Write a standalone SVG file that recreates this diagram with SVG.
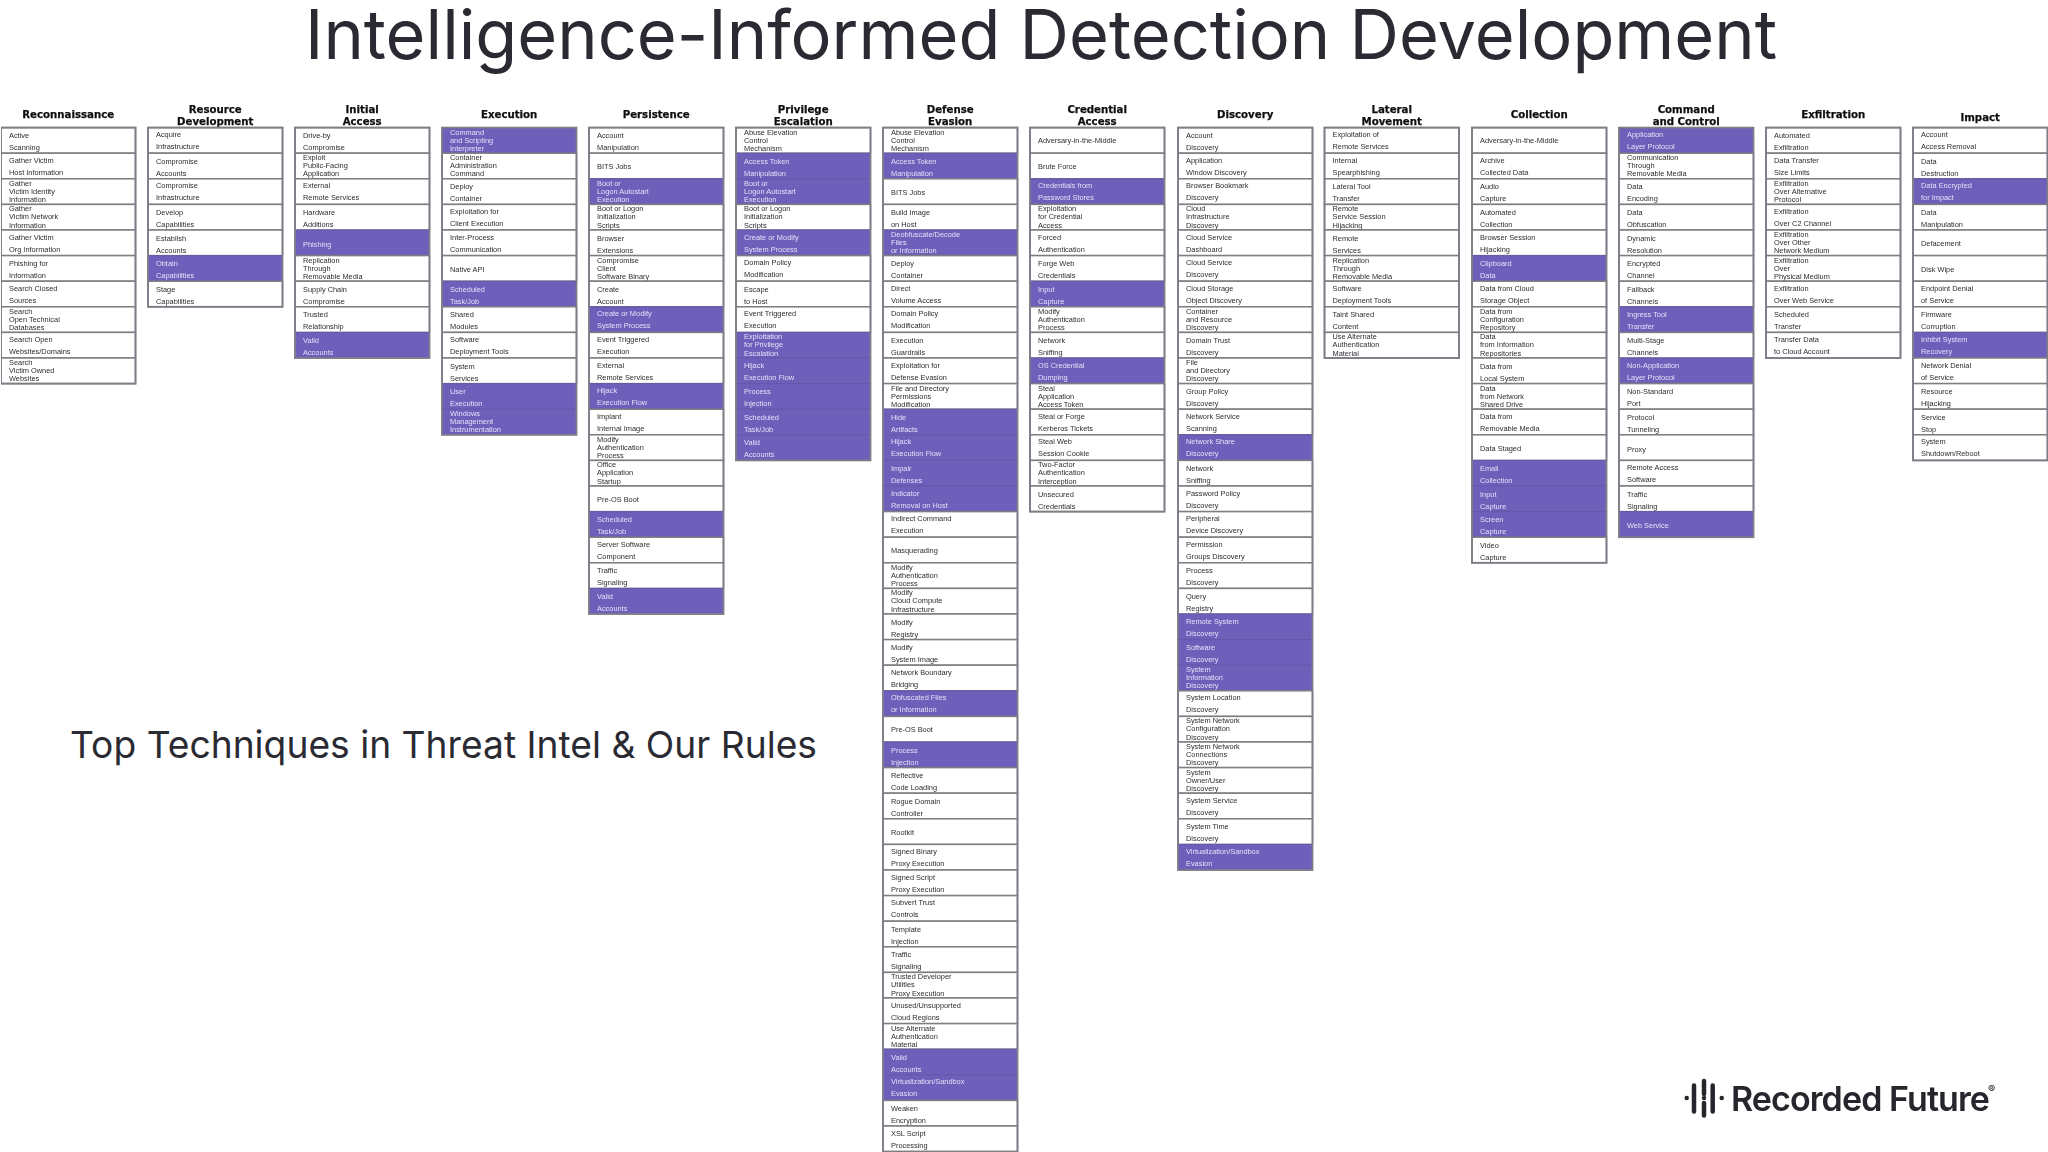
<svg xmlns="http://www.w3.org/2000/svg" width="2048" height="1152" viewBox="0 0 2048 1152">
<style>
.bg{fill:#fff}
.title{font-family:Inter,"Liberation Sans",sans-serif;fill:#2a2a33}
.grid rect{fill:#fff;stroke:#7e7e80;stroke-width:1.5}
.grid g.p rect{fill:#6e5fbb;stroke:#6558ac;stroke-width:1}
.grid rect.f{fill:none;stroke:#7e7e88;stroke-width:1.8}
.grid text{font-family:"Liberation Sans",Arial,sans-serif;font-size:7.4px;fill:#2c2c2c}
.grid g.p text{fill:#e4e0f6}
.grid text.h{font-family:"DejaVu Sans",sans-serif;font-weight:700;font-size:10.2px;fill:#111;text-anchor:middle;stroke:#111;stroke-width:.25}
.logo{font-family:Inter,"Liberation Sans",sans-serif;font-weight:600;fill:#26262c}
.mark{stroke:#26262c;stroke-width:4.5;stroke-linecap:round;fill:none}
</style>
<defs><filter id="soft" x="0" y="0" width="100%" height="100%" filterUnits="objectBoundingBox"><feGaussianBlur stdDeviation="0.5"/></filter></defs>
<rect class="bg" width="2048" height="1152"/>
<text id="title" class="title" x="305" y="59" font-size="68.5">Intelligence-Informed Detection Development</text>
<text id="subtitle" class="title" x="70" y="758" font-size="37.2">Top Techniques in Threat Intel &amp; Our Rules</text>
<g class="grid" filter="url(#soft)">
<g id="col-reconnaissance" transform="translate(1,127.6)">
<text class="h" x="67.2" y="-9.6">Reconnaissance</text>
<g id="rec-0"><rect width="134.5" height="25.6"/><text x="8" y="10.7">Active<tspan x="8" dy="12">Scanning</tspan></text></g>
<g id="rec-1" transform="translate(0,25.6)"><rect width="134.5" height="25.6"/><text x="8" y="9.5">Gather Victim<tspan x="8" dy="12">Host Information</tspan></text></g>
<g id="rec-2" transform="translate(0,51.2)"><rect width="134.5" height="25.6"/><text x="8" y="7">Gather<tspan x="8" dy="8.1">Victim Identity</tspan><tspan x="8" dy="8.1">Information</tspan></text></g>
<g id="rec-3" transform="translate(0,76.8)"><rect width="134.5" height="25.6"/><text x="8" y="7">Gather<tspan x="8" dy="8.1">Victim Network</tspan><tspan x="8" dy="8.1">Information</tspan></text></g>
<g id="rec-4" transform="translate(0,102.4)"><rect width="134.5" height="25.6"/><text x="8" y="9.5">Gather Victim<tspan x="8" dy="12">Org Information</tspan></text></g>
<g id="rec-5" transform="translate(0,128)"><rect width="134.5" height="25.6"/><text x="8" y="10.7">Phishing for<tspan x="8" dy="12">Information</tspan></text></g>
<g id="rec-6" transform="translate(0,153.6)"><rect width="134.5" height="25.6"/><text x="8" y="9.5">Search Closed<tspan x="8" dy="12">Sources</tspan></text></g>
<g id="rec-7" transform="translate(0,179.2)"><rect width="134.5" height="25.6"/><text x="8" y="7">Search<tspan x="8" dy="8.1">Open Technical</tspan><tspan x="8" dy="8.1">Databases</tspan></text></g>
<g id="rec-8" transform="translate(0,204.8)"><rect width="134.5" height="25.6"/><text x="8" y="9.5">Search Open<tspan x="8" dy="12">Websites/Domains</tspan></text></g>
<g id="rec-9" transform="translate(0,230.4)"><rect width="134.5" height="25.6"/><text x="8" y="7">Search<tspan x="8" dy="8.1">Victim Owned</tspan><tspan x="8" dy="8.1">Websites</tspan></text></g>
<rect class="f" width="134.5" height="256"/>
</g>
<g id="col-resource" transform="translate(148,127.6)">
<text class="h" x="67.2" y="-14.6">Resource<tspan x="67.2" dy="12">Development</tspan></text>
<g id="res-0"><rect width="134.5" height="25.6"/><text x="8" y="9.5">Acquire<tspan x="8" dy="12">Infrastructure</tspan></text></g>
<g id="res-1" transform="translate(0,25.6)"><rect width="134.5" height="25.6"/><text x="8" y="10.7">Compromise<tspan x="8" dy="12">Accounts</tspan></text></g>
<g id="res-2" transform="translate(0,51.2)"><rect width="134.5" height="25.6"/><text x="8" y="9.5">Compromise<tspan x="8" dy="12">Infrastructure</tspan></text></g>
<g id="res-3" transform="translate(0,76.8)"><rect width="134.5" height="25.6"/><text x="8" y="10.7">Develop<tspan x="8" dy="12">Capabilities</tspan></text></g>
<g id="res-4" transform="translate(0,102.4)"><rect width="134.5" height="25.6"/><text x="8" y="10.7">Establish<tspan x="8" dy="12">Accounts</tspan></text></g>
<g id="res-5" class="p" transform="translate(0,128)"><rect width="134.5" height="25.6"/><text x="8" y="10.7">Obtain<tspan x="8" dy="12">Capabilities</tspan></text></g>
<g id="res-6" transform="translate(0,153.6)"><rect width="134.5" height="25.6"/><text x="8" y="10.7">Stage<tspan x="8" dy="12">Capabilities</tspan></text></g>
<rect class="f" width="134.5" height="179.2"/>
</g>
<g id="col-initial" transform="translate(295,127.6)">
<text class="h" x="67.2" y="-14.6">Initial<tspan x="67.2" dy="12">Access</tspan></text>
<g id="ini-0"><rect width="134.5" height="25.6"/><text x="8" y="10.7">Drive-by<tspan x="8" dy="12">Compromise</tspan></text></g>
<g id="ini-1" transform="translate(0,25.6)"><rect width="134.5" height="25.6"/><text x="8" y="7">Exploit<tspan x="8" dy="8.1">Public-Facing</tspan><tspan x="8" dy="8.1">Application</tspan></text></g>
<g id="ini-2" transform="translate(0,51.2)"><rect width="134.5" height="25.6"/><text x="8" y="9.5">External<tspan x="8" dy="12">Remote Services</tspan></text></g>
<g id="ini-3" transform="translate(0,76.8)"><rect width="134.5" height="25.6"/><text x="8" y="10.7">Hardware<tspan x="8" dy="12">Additions</tspan></text></g>
<g id="ini-4" class="p" transform="translate(0,102.4)"><rect width="134.5" height="25.6"/><text x="8" y="17">Phishing</text></g>
<g id="ini-5" transform="translate(0,128)"><rect width="134.5" height="25.6"/><text x="8" y="7">Replication<tspan x="8" dy="8.1">Through</tspan><tspan x="8" dy="8.1">Removable Media</tspan></text></g>
<g id="ini-6" transform="translate(0,153.6)"><rect width="134.5" height="25.6"/><text x="8" y="10.7">Supply Chain<tspan x="8" dy="12">Compromise</tspan></text></g>
<g id="ini-7" transform="translate(0,179.2)"><rect width="134.5" height="25.6"/><text x="8" y="10.7">Trusted<tspan x="8" dy="12">Relationship</tspan></text></g>
<g id="ini-8" class="p" transform="translate(0,204.8)"><rect width="134.5" height="25.6"/><text x="8" y="10.7">Valid<tspan x="8" dy="12">Accounts</tspan></text></g>
<rect class="f" width="134.5" height="230.4"/>
</g>
<g id="col-execution" transform="translate(442,127.6)">
<text class="h" x="67.2" y="-9.6">Execution</text>
<g id="exe-0" class="p"><rect width="134.5" height="25.6"/><text x="8" y="7">Command<tspan x="8" dy="8.1">and Scripting</tspan><tspan x="8" dy="8.1">Interpreter</tspan></text></g>
<g id="exe-1" transform="translate(0,25.6)"><rect width="134.5" height="25.6"/><text x="8" y="7">Container<tspan x="8" dy="8.1">Administration</tspan><tspan x="8" dy="8.1">Command</tspan></text></g>
<g id="exe-2" transform="translate(0,51.2)"><rect width="134.5" height="25.6"/><text x="8" y="10.7">Deploy<tspan x="8" dy="12">Container</tspan></text></g>
<g id="exe-3" transform="translate(0,76.8)"><rect width="134.5" height="25.6"/><text x="8" y="9.5">Exploitation for<tspan x="8" dy="12">Client Execution</tspan></text></g>
<g id="exe-4" transform="translate(0,102.4)"><rect width="134.5" height="25.6"/><text x="8" y="9.5">Inter-Process<tspan x="8" dy="12">Communication</tspan></text></g>
<g id="exe-5" transform="translate(0,128)"><rect width="134.5" height="25.6"/><text x="8" y="16">Native API</text></g>
<g id="exe-6" class="p" transform="translate(0,153.6)"><rect width="134.5" height="25.6"/><text x="8" y="10.7">Scheduled<tspan x="8" dy="12">Task/Job</tspan></text></g>
<g id="exe-7" transform="translate(0,179.2)"><rect width="134.5" height="25.6"/><text x="8" y="10.7">Shared<tspan x="8" dy="12">Modules</tspan></text></g>
<g id="exe-8" transform="translate(0,204.8)"><rect width="134.5" height="25.6"/><text x="8" y="9.5">Software<tspan x="8" dy="12">Deployment Tools</tspan></text></g>
<g id="exe-9" transform="translate(0,230.4)"><rect width="134.5" height="25.6"/><text x="8" y="10.7">System<tspan x="8" dy="12">Services</tspan></text></g>
<g id="exe-10" class="p" transform="translate(0,256)"><rect width="134.5" height="25.6"/><text x="8" y="10.7">User<tspan x="8" dy="12">Execution</tspan></text></g>
<g id="exe-11" class="p" transform="translate(0,281.6)"><rect width="134.5" height="25.6"/><text x="8" y="7">Windows<tspan x="8" dy="8.1">Management</tspan><tspan x="8" dy="8.1">Instrumentation</tspan></text></g>
<rect class="f" width="134.5" height="307.2"/>
</g>
<g id="col-persistence" transform="translate(589,127.6)">
<text class="h" x="67.2" y="-9.6">Persistence</text>
<g id="per-0"><rect width="134.5" height="25.6"/><text x="8" y="10.7">Account<tspan x="8" dy="12">Manipulation</tspan></text></g>
<g id="per-1" transform="translate(0,25.6)"><rect width="134.5" height="25.6"/><text x="8" y="16">BITS Jobs</text></g>
<g id="per-2" class="p" transform="translate(0,51.2)"><rect width="134.5" height="25.6"/><text x="8" y="7">Boot or<tspan x="8" dy="8.1">Logon Autostart</tspan><tspan x="8" dy="8.1">Execution</tspan></text></g>
<g id="per-3" transform="translate(0,76.8)"><rect width="134.5" height="25.6"/><text x="8" y="7">Boot or Logon<tspan x="8" dy="8.1">Initialization</tspan><tspan x="8" dy="8.1">Scripts</tspan></text></g>
<g id="per-4" transform="translate(0,102.4)"><rect width="134.5" height="25.6"/><text x="8" y="10.7">Browser<tspan x="8" dy="12">Extensions</tspan></text></g>
<g id="per-5" transform="translate(0,128)"><rect width="134.5" height="25.6"/><text x="8" y="7">Compromise<tspan x="8" dy="8.1">Client</tspan><tspan x="8" dy="8.1">Software Binary</tspan></text></g>
<g id="per-6" transform="translate(0,153.6)"><rect width="134.5" height="25.6"/><text x="8" y="10.7">Create<tspan x="8" dy="12">Account</tspan></text></g>
<g id="per-7" class="p" transform="translate(0,179.2)"><rect width="134.5" height="25.6"/><text x="8" y="9.5">Create or Modify<tspan x="8" dy="12">System Process</tspan></text></g>
<g id="per-8" transform="translate(0,204.8)"><rect width="134.5" height="25.6"/><text x="8" y="9.5">Event Triggered<tspan x="8" dy="12">Execution</tspan></text></g>
<g id="per-9" transform="translate(0,230.4)"><rect width="134.5" height="25.6"/><text x="8" y="9.5">External<tspan x="8" dy="12">Remote Services</tspan></text></g>
<g id="per-10" class="p" transform="translate(0,256)"><rect width="134.5" height="25.6"/><text x="8" y="9.5">Hijack<tspan x="8" dy="12">Execution Flow</tspan></text></g>
<g id="per-11" transform="translate(0,281.6)"><rect width="134.5" height="25.6"/><text x="8" y="9.5">Implant<tspan x="8" dy="12">Internal Image</tspan></text></g>
<g id="per-12" transform="translate(0,307.2)"><rect width="134.5" height="25.6"/><text x="8" y="7">Modify<tspan x="8" dy="8.1">Authentication</tspan><tspan x="8" dy="8.1">Process</tspan></text></g>
<g id="per-13" transform="translate(0,332.8)"><rect width="134.5" height="25.6"/><text x="8" y="7">Office<tspan x="8" dy="8.1">Application</tspan><tspan x="8" dy="8.1">Startup</tspan></text></g>
<g id="per-14" transform="translate(0,358.4)"><rect width="134.5" height="25.6"/><text x="8" y="16">Pre-OS Boot</text></g>
<g id="per-15" class="p" transform="translate(0,384)"><rect width="134.5" height="25.6"/><text x="8" y="10.7">Scheduled<tspan x="8" dy="12">Task/Job</tspan></text></g>
<g id="per-16" transform="translate(0,409.6)"><rect width="134.5" height="25.6"/><text x="8" y="9.5">Server Software<tspan x="8" dy="12">Component</tspan></text></g>
<g id="per-17" transform="translate(0,435.2)"><rect width="134.5" height="25.6"/><text x="8" y="10.7">Traffic<tspan x="8" dy="12">Signaling</tspan></text></g>
<g id="per-18" class="p" transform="translate(0,460.8)"><rect width="134.5" height="25.6"/><text x="8" y="10.7">Valid<tspan x="8" dy="12">Accounts</tspan></text></g>
<rect class="f" width="134.5" height="486.4"/>
</g>
<g id="col-privilege" transform="translate(736,127.6)">
<text class="h" x="67.2" y="-14.6">Privilege<tspan x="67.2" dy="12">Escalation</tspan></text>
<g id="pri-0"><rect width="134.5" height="25.6"/><text x="8" y="7">Abuse Elevation<tspan x="8" dy="8.1">Control</tspan><tspan x="8" dy="8.1">Mechanism</tspan></text></g>
<g id="pri-1" class="p" transform="translate(0,25.6)"><rect width="134.5" height="25.6"/><text x="8" y="10.7">Access Token<tspan x="8" dy="12">Manipulation</tspan></text></g>
<g id="pri-2" class="p" transform="translate(0,51.2)"><rect width="134.5" height="25.6"/><text x="8" y="7">Boot or<tspan x="8" dy="8.1">Logon Autostart</tspan><tspan x="8" dy="8.1">Execution</tspan></text></g>
<g id="pri-3" transform="translate(0,76.8)"><rect width="134.5" height="25.6"/><text x="8" y="7">Boot or Logon<tspan x="8" dy="8.1">Initialization</tspan><tspan x="8" dy="8.1">Scripts</tspan></text></g>
<g id="pri-4" class="p" transform="translate(0,102.4)"><rect width="134.5" height="25.6"/><text x="8" y="9.5">Create or Modify<tspan x="8" dy="12">System Process</tspan></text></g>
<g id="pri-5" transform="translate(0,128)"><rect width="134.5" height="25.6"/><text x="8" y="9.5">Domain Policy<tspan x="8" dy="12">Modification</tspan></text></g>
<g id="pri-6" transform="translate(0,153.6)"><rect width="134.5" height="25.6"/><text x="8" y="10.7">Escape<tspan x="8" dy="12">to Host</tspan></text></g>
<g id="pri-7" transform="translate(0,179.2)"><rect width="134.5" height="25.6"/><text x="8" y="9.5">Event Triggered<tspan x="8" dy="12">Execution</tspan></text></g>
<g id="pri-8" class="p" transform="translate(0,204.8)"><rect width="134.5" height="25.6"/><text x="8" y="7">Exploitation<tspan x="8" dy="8.1">for Privilege</tspan><tspan x="8" dy="8.1">Escalation</tspan></text></g>
<g id="pri-9" class="p" transform="translate(0,230.4)"><rect width="134.5" height="25.6"/><text x="8" y="9.5">Hijack<tspan x="8" dy="12">Execution Flow</tspan></text></g>
<g id="pri-10" class="p" transform="translate(0,256)"><rect width="134.5" height="25.6"/><text x="8" y="10.7">Process<tspan x="8" dy="12">Injection</tspan></text></g>
<g id="pri-11" class="p" transform="translate(0,281.6)"><rect width="134.5" height="25.6"/><text x="8" y="10.7">Scheduled<tspan x="8" dy="12">Task/Job</tspan></text></g>
<g id="pri-12" class="p" transform="translate(0,307.2)"><rect width="134.5" height="25.6"/><text x="8" y="10.7">Valid<tspan x="8" dy="12">Accounts</tspan></text></g>
<rect class="f" width="134.5" height="332.8"/>
</g>
<g id="col-defense" transform="translate(883,127.6)">
<text class="h" x="67.2" y="-14.6">Defense<tspan x="67.2" dy="12">Evasion</tspan></text>
<g id="def-0"><rect width="134.5" height="25.6"/><text x="8" y="7">Abuse Elevation<tspan x="8" dy="8.1">Control</tspan><tspan x="8" dy="8.1">Mechanism</tspan></text></g>
<g id="def-1" class="p" transform="translate(0,25.6)"><rect width="134.5" height="25.6"/><text x="8" y="10.7">Access Token<tspan x="8" dy="12">Manipulation</tspan></text></g>
<g id="def-2" transform="translate(0,51.2)"><rect width="134.5" height="25.6"/><text x="8" y="16">BITS Jobs</text></g>
<g id="def-3" transform="translate(0,76.8)"><rect width="134.5" height="25.6"/><text x="8" y="10.7">Build Image<tspan x="8" dy="12">on Host</tspan></text></g>
<g id="def-4" class="p" transform="translate(0,102.4)"><rect width="134.5" height="25.6"/><text x="8" y="7">Deobfuscate/Decode<tspan x="8" dy="8.1">Files</tspan><tspan x="8" dy="8.1">or Information</tspan></text></g>
<g id="def-5" transform="translate(0,128)"><rect width="134.5" height="25.6"/><text x="8" y="10.7">Deploy<tspan x="8" dy="12">Container</tspan></text></g>
<g id="def-6" transform="translate(0,153.6)"><rect width="134.5" height="25.6"/><text x="8" y="9.5">Direct<tspan x="8" dy="12">Volume Access</tspan></text></g>
<g id="def-7" transform="translate(0,179.2)"><rect width="134.5" height="25.6"/><text x="8" y="9.5">Domain Policy<tspan x="8" dy="12">Modification</tspan></text></g>
<g id="def-8" transform="translate(0,204.8)"><rect width="134.5" height="25.6"/><text x="8" y="10.7">Execution<tspan x="8" dy="12">Guardrails</tspan></text></g>
<g id="def-9" transform="translate(0,230.4)"><rect width="134.5" height="25.6"/><text x="8" y="9.5">Exploitation for<tspan x="8" dy="12">Defense Evasion</tspan></text></g>
<g id="def-10" transform="translate(0,256)"><rect width="134.5" height="25.6"/><text x="8" y="7">File and Directory<tspan x="8" dy="8.1">Permissions</tspan><tspan x="8" dy="8.1">Modification</tspan></text></g>
<g id="def-11" class="p" transform="translate(0,281.6)"><rect width="134.5" height="25.6"/><text x="8" y="10.7">Hide<tspan x="8" dy="12">Artifacts</tspan></text></g>
<g id="def-12" class="p" transform="translate(0,307.2)"><rect width="134.5" height="25.6"/><text x="8" y="9.5">Hijack<tspan x="8" dy="12">Execution Flow</tspan></text></g>
<g id="def-13" class="p" transform="translate(0,332.8)"><rect width="134.5" height="25.6"/><text x="8" y="10.7">Impair<tspan x="8" dy="12">Defenses</tspan></text></g>
<g id="def-14" class="p" transform="translate(0,358.4)"><rect width="134.5" height="25.6"/><text x="8" y="9.5">Indicator<tspan x="8" dy="12">Removal on Host</tspan></text></g>
<g id="def-15" transform="translate(0,384)"><rect width="134.5" height="25.6"/><text x="8" y="9.5">Indirect Command<tspan x="8" dy="12">Execution</tspan></text></g>
<g id="def-16" transform="translate(0,409.6)"><rect width="134.5" height="25.6"/><text x="8" y="16">Masquerading</text></g>
<g id="def-17" transform="translate(0,435.2)"><rect width="134.5" height="25.6"/><text x="8" y="7">Modify<tspan x="8" dy="8.1">Authentication</tspan><tspan x="8" dy="8.1">Process</tspan></text></g>
<g id="def-18" transform="translate(0,460.8)"><rect width="134.5" height="25.6"/><text x="8" y="7">Modify<tspan x="8" dy="8.1">Cloud Compute</tspan><tspan x="8" dy="8.1">Infrastructure</tspan></text></g>
<g id="def-19" transform="translate(0,486.4)"><rect width="134.5" height="25.6"/><text x="8" y="10.7">Modify<tspan x="8" dy="12">Registry</tspan></text></g>
<g id="def-20" transform="translate(0,512)"><rect width="134.5" height="25.6"/><text x="8" y="10.7">Modify<tspan x="8" dy="12">System Image</tspan></text></g>
<g id="def-21" transform="translate(0,537.6)"><rect width="134.5" height="25.6"/><text x="8" y="9.5">Network Boundary<tspan x="8" dy="12">Bridging</tspan></text></g>
<g id="def-22" class="p" transform="translate(0,563.2)"><rect width="134.5" height="25.6"/><text x="8" y="9.5">Obfuscated Files<tspan x="8" dy="12">or Information</tspan></text></g>
<g id="def-23" transform="translate(0,588.8)"><rect width="134.5" height="25.6"/><text x="8" y="16">Pre-OS Boot</text></g>
<g id="def-24" class="p" transform="translate(0,614.4)"><rect width="134.5" height="25.6"/><text x="8" y="10.7">Process<tspan x="8" dy="12">Injection</tspan></text></g>
<g id="def-25" transform="translate(0,640)"><rect width="134.5" height="25.6"/><text x="8" y="10.7">Reflective<tspan x="8" dy="12">Code Loading</tspan></text></g>
<g id="def-26" transform="translate(0,665.6)"><rect width="134.5" height="25.6"/><text x="8" y="10.7">Rogue Domain<tspan x="8" dy="12">Controller</tspan></text></g>
<g id="def-27" transform="translate(0,691.2)"><rect width="134.5" height="25.6"/><text x="8" y="16">Rootkit</text></g>
<g id="def-28" transform="translate(0,716.8)"><rect width="134.5" height="25.6"/><text x="8" y="9.5">Signed Binary<tspan x="8" dy="12">Proxy Execution</tspan></text></g>
<g id="def-29" transform="translate(0,742.4)"><rect width="134.5" height="25.6"/><text x="8" y="9.5">Signed Script<tspan x="8" dy="12">Proxy Execution</tspan></text></g>
<g id="def-30" transform="translate(0,768)"><rect width="134.5" height="25.6"/><text x="8" y="9.5">Subvert Trust<tspan x="8" dy="12">Controls</tspan></text></g>
<g id="def-31" transform="translate(0,793.6)"><rect width="134.5" height="25.6"/><text x="8" y="10.7">Template<tspan x="8" dy="12">Injection</tspan></text></g>
<g id="def-32" transform="translate(0,819.2)"><rect width="134.5" height="25.6"/><text x="8" y="10.7">Traffic<tspan x="8" dy="12">Signaling</tspan></text></g>
<g id="def-33" transform="translate(0,844.8)"><rect width="134.5" height="25.6"/><text x="8" y="7">Trusted Developer<tspan x="8" dy="8.1">Utilities</tspan><tspan x="8" dy="8.1">Proxy Execution</tspan></text></g>
<g id="def-34" transform="translate(0,870.4)"><rect width="134.5" height="25.6"/><text x="8" y="9.5">Unused/Unsupported<tspan x="8" dy="12">Cloud Regions</tspan></text></g>
<g id="def-35" transform="translate(0,896)"><rect width="134.5" height="25.6"/><text x="8" y="7">Use Alternate<tspan x="8" dy="8.1">Authentication</tspan><tspan x="8" dy="8.1">Material</tspan></text></g>
<g id="def-36" class="p" transform="translate(0,921.6)"><rect width="134.5" height="25.6"/><text x="8" y="10.7">Valid<tspan x="8" dy="12">Accounts</tspan></text></g>
<g id="def-37" class="p" transform="translate(0,947.2)"><rect width="134.5" height="25.6"/><text x="8" y="9.5">Virtualization/Sandbox<tspan x="8" dy="12">Evasion</tspan></text></g>
<g id="def-38" transform="translate(0,972.8)"><rect width="134.5" height="25.6"/><text x="8" y="10.7">Weaken<tspan x="8" dy="12">Encryption</tspan></text></g>
<g id="def-39" transform="translate(0,998.4)"><rect width="134.5" height="25.6"/><text x="8" y="9.5">XSL Script<tspan x="8" dy="12">Processing</tspan></text></g>
<rect class="f" width="134.5" height="1024"/>
</g>
<g id="col-credential" transform="translate(1030,127.6)">
<text class="h" x="67.2" y="-14.6">Credential<tspan x="67.2" dy="12">Access</tspan></text>
<g id="cre-0"><rect width="134.5" height="25.6"/><text x="8" y="15.5">Adversary-in-the-Middle</text></g>
<g id="cre-1" transform="translate(0,25.6)"><rect width="134.5" height="25.6"/><text x="8" y="16">Brute Force</text></g>
<g id="cre-2" class="p" transform="translate(0,51.2)"><rect width="134.5" height="25.6"/><text x="8" y="9.5">Credentials from<tspan x="8" dy="12">Password Stores</tspan></text></g>
<g id="cre-3" transform="translate(0,76.8)"><rect width="134.5" height="25.6"/><text x="8" y="7">Exploitation<tspan x="8" dy="8.1">for Credential</tspan><tspan x="8" dy="8.1">Access</tspan></text></g>
<g id="cre-4" transform="translate(0,102.4)"><rect width="134.5" height="25.6"/><text x="8" y="9.5">Forced<tspan x="8" dy="12">Authentication</tspan></text></g>
<g id="cre-5" transform="translate(0,128)"><rect width="134.5" height="25.6"/><text x="8" y="10.7">Forge Web<tspan x="8" dy="12">Credentials</tspan></text></g>
<g id="cre-6" class="p" transform="translate(0,153.6)"><rect width="134.5" height="25.6"/><text x="8" y="10.7">Input<tspan x="8" dy="12">Capture</tspan></text></g>
<g id="cre-7" transform="translate(0,179.2)"><rect width="134.5" height="25.6"/><text x="8" y="7">Modify<tspan x="8" dy="8.1">Authentication</tspan><tspan x="8" dy="8.1">Process</tspan></text></g>
<g id="cre-8" transform="translate(0,204.8)"><rect width="134.5" height="25.6"/><text x="8" y="10.7">Network<tspan x="8" dy="12">Sniffing</tspan></text></g>
<g id="cre-9" class="p" transform="translate(0,230.4)"><rect width="134.5" height="25.6"/><text x="8" y="9.5">OS Credential<tspan x="8" dy="12">Dumping</tspan></text></g>
<g id="cre-10" transform="translate(0,256)"><rect width="134.5" height="25.6"/><text x="8" y="7">Steal<tspan x="8" dy="8.1">Application</tspan><tspan x="8" dy="8.1">Access Token</tspan></text></g>
<g id="cre-11" transform="translate(0,281.6)"><rect width="134.5" height="25.6"/><text x="8" y="9.5">Steal or Forge<tspan x="8" dy="12">Kerberos Tickets</tspan></text></g>
<g id="cre-12" transform="translate(0,307.2)"><rect width="134.5" height="25.6"/><text x="8" y="9.5">Steal Web<tspan x="8" dy="12">Session Cookie</tspan></text></g>
<g id="cre-13" transform="translate(0,332.8)"><rect width="134.5" height="25.6"/><text x="8" y="7">Two-Factor<tspan x="8" dy="8.1">Authentication</tspan><tspan x="8" dy="8.1">Interception</tspan></text></g>
<g id="cre-14" transform="translate(0,358.4)"><rect width="134.5" height="25.6"/><text x="8" y="10.7">Unsecured<tspan x="8" dy="12">Credentials</tspan></text></g>
<rect class="f" width="134.5" height="384"/>
</g>
<g id="col-discovery" transform="translate(1178,127.6)">
<text class="h" x="67.2" y="-9.6">Discovery</text>
<g id="dis-0"><rect width="134.5" height="25.6"/><text x="8" y="10.7">Account<tspan x="8" dy="12">Discovery</tspan></text></g>
<g id="dis-1" transform="translate(0,25.6)"><rect width="134.5" height="25.6"/><text x="8" y="9.5">Application<tspan x="8" dy="12">Window Discovery</tspan></text></g>
<g id="dis-2" transform="translate(0,51.2)"><rect width="134.5" height="25.6"/><text x="8" y="9.5">Browser Bookmark<tspan x="8" dy="12">Discovery</tspan></text></g>
<g id="dis-3" transform="translate(0,76.8)"><rect width="134.5" height="25.6"/><text x="8" y="7">Cloud<tspan x="8" dy="8.1">Infrastructure</tspan><tspan x="8" dy="8.1">Discovery</tspan></text></g>
<g id="dis-4" transform="translate(0,102.4)"><rect width="134.5" height="25.6"/><text x="8" y="9.5">Cloud Service<tspan x="8" dy="12">Dashboard</tspan></text></g>
<g id="dis-5" transform="translate(0,128)"><rect width="134.5" height="25.6"/><text x="8" y="9.5">Cloud Service<tspan x="8" dy="12">Discovery</tspan></text></g>
<g id="dis-6" transform="translate(0,153.6)"><rect width="134.5" height="25.6"/><text x="8" y="9.5">Cloud Storage<tspan x="8" dy="12">Object Discovery</tspan></text></g>
<g id="dis-7" transform="translate(0,179.2)"><rect width="134.5" height="25.6"/><text x="8" y="7">Container<tspan x="8" dy="8.1">and Resource</tspan><tspan x="8" dy="8.1">Discovery</tspan></text></g>
<g id="dis-8" transform="translate(0,204.8)"><rect width="134.5" height="25.6"/><text x="8" y="10.7">Domain Trust<tspan x="8" dy="12">Discovery</tspan></text></g>
<g id="dis-9" transform="translate(0,230.4)"><rect width="134.5" height="25.6"/><text x="8" y="7">File<tspan x="8" dy="8.1">and Directory</tspan><tspan x="8" dy="8.1">Discovery</tspan></text></g>
<g id="dis-10" transform="translate(0,256)"><rect width="134.5" height="25.6"/><text x="8" y="10.7">Group Policy<tspan x="8" dy="12">Discovery</tspan></text></g>
<g id="dis-11" transform="translate(0,281.6)"><rect width="134.5" height="25.6"/><text x="8" y="9.5">Network Service<tspan x="8" dy="12">Scanning</tspan></text></g>
<g id="dis-12" class="p" transform="translate(0,307.2)"><rect width="134.5" height="25.6"/><text x="8" y="9.5">Network Share<tspan x="8" dy="12">Discovery</tspan></text></g>
<g id="dis-13" transform="translate(0,332.8)"><rect width="134.5" height="25.6"/><text x="8" y="10.7">Network<tspan x="8" dy="12">Sniffing</tspan></text></g>
<g id="dis-14" transform="translate(0,358.4)"><rect width="134.5" height="25.6"/><text x="8" y="9.5">Password Policy<tspan x="8" dy="12">Discovery</tspan></text></g>
<g id="dis-15" transform="translate(0,384)"><rect width="134.5" height="25.6"/><text x="8" y="9.5">Peripheral<tspan x="8" dy="12">Device Discovery</tspan></text></g>
<g id="dis-16" transform="translate(0,409.6)"><rect width="134.5" height="25.6"/><text x="8" y="9.5">Permission<tspan x="8" dy="12">Groups Discovery</tspan></text></g>
<g id="dis-17" transform="translate(0,435.2)"><rect width="134.5" height="25.6"/><text x="8" y="10.7">Process<tspan x="8" dy="12">Discovery</tspan></text></g>
<g id="dis-18" transform="translate(0,460.8)"><rect width="134.5" height="25.6"/><text x="8" y="10.7">Query<tspan x="8" dy="12">Registry</tspan></text></g>
<g id="dis-19" class="p" transform="translate(0,486.4)"><rect width="134.5" height="25.6"/><text x="8" y="9.5">Remote System<tspan x="8" dy="12">Discovery</tspan></text></g>
<g id="dis-20" class="p" transform="translate(0,512)"><rect width="134.5" height="25.6"/><text x="8" y="10.7">Software<tspan x="8" dy="12">Discovery</tspan></text></g>
<g id="dis-21" class="p" transform="translate(0,537.6)"><rect width="134.5" height="25.6"/><text x="8" y="7">System<tspan x="8" dy="8.1">Information</tspan><tspan x="8" dy="8.1">Discovery</tspan></text></g>
<g id="dis-22" transform="translate(0,563.2)"><rect width="134.5" height="25.6"/><text x="8" y="9.5">System Location<tspan x="8" dy="12">Discovery</tspan></text></g>
<g id="dis-23" transform="translate(0,588.8)"><rect width="134.5" height="25.6"/><text x="8" y="7">System Network<tspan x="8" dy="8.1">Configuration</tspan><tspan x="8" dy="8.1">Discovery</tspan></text></g>
<g id="dis-24" transform="translate(0,614.4)"><rect width="134.5" height="25.6"/><text x="8" y="7">System Network<tspan x="8" dy="8.1">Connections</tspan><tspan x="8" dy="8.1">Discovery</tspan></text></g>
<g id="dis-25" transform="translate(0,640)"><rect width="134.5" height="25.6"/><text x="8" y="7">System<tspan x="8" dy="8.1">Owner/User</tspan><tspan x="8" dy="8.1">Discovery</tspan></text></g>
<g id="dis-26" transform="translate(0,665.6)"><rect width="134.5" height="25.6"/><text x="8" y="9.5">System Service<tspan x="8" dy="12">Discovery</tspan></text></g>
<g id="dis-27" transform="translate(0,691.2)"><rect width="134.5" height="25.6"/><text x="8" y="10.7">System Time<tspan x="8" dy="12">Discovery</tspan></text></g>
<g id="dis-28" class="p" transform="translate(0,716.8)"><rect width="134.5" height="25.6"/><text x="8" y="9.5">Virtualization/Sandbox<tspan x="8" dy="12">Evasion</tspan></text></g>
<rect class="f" width="134.5" height="742.4"/>
</g>
<g id="col-lateral" transform="translate(1324.5,127.6)">
<text class="h" x="67.2" y="-14.6">Lateral<tspan x="67.2" dy="12">Movement</tspan></text>
<g id="lat-0"><rect width="134.5" height="25.6"/><text x="8" y="9.5">Exploitation of<tspan x="8" dy="12">Remote Services</tspan></text></g>
<g id="lat-1" transform="translate(0,25.6)"><rect width="134.5" height="25.6"/><text x="8" y="9.5">Internal<tspan x="8" dy="12">Spearphishing</tspan></text></g>
<g id="lat-2" transform="translate(0,51.2)"><rect width="134.5" height="25.6"/><text x="8" y="10.7">Lateral Tool<tspan x="8" dy="12">Transfer</tspan></text></g>
<g id="lat-3" transform="translate(0,76.8)"><rect width="134.5" height="25.6"/><text x="8" y="7">Remote<tspan x="8" dy="8.1">Service Session</tspan><tspan x="8" dy="8.1">Hijacking</tspan></text></g>
<g id="lat-4" transform="translate(0,102.4)"><rect width="134.5" height="25.6"/><text x="8" y="10.7">Remote<tspan x="8" dy="12">Services</tspan></text></g>
<g id="lat-5" transform="translate(0,128)"><rect width="134.5" height="25.6"/><text x="8" y="7">Replication<tspan x="8" dy="8.1">Through</tspan><tspan x="8" dy="8.1">Removable Media</tspan></text></g>
<g id="lat-6" transform="translate(0,153.6)"><rect width="134.5" height="25.6"/><text x="8" y="9.5">Software<tspan x="8" dy="12">Deployment Tools</tspan></text></g>
<g id="lat-7" transform="translate(0,179.2)"><rect width="134.5" height="25.6"/><text x="8" y="10.7">Taint Shared<tspan x="8" dy="12">Content</tspan></text></g>
<g id="lat-8" transform="translate(0,204.8)"><rect width="134.5" height="25.6"/><text x="8" y="7">Use Alternate<tspan x="8" dy="8.1">Authentication</tspan><tspan x="8" dy="8.1">Material</tspan></text></g>
<rect class="f" width="134.5" height="230.4"/>
</g>
<g id="col-collection" transform="translate(1472,127.6)">
<text class="h" x="67.2" y="-9.6">Collection</text>
<g id="col-0"><rect width="134.5" height="25.6"/><text x="8" y="15.5">Adversary-in-the-Middle</text></g>
<g id="col-1" transform="translate(0,25.6)"><rect width="134.5" height="25.6"/><text x="8" y="9.5">Archive<tspan x="8" dy="12">Collected Data</tspan></text></g>
<g id="col-2" transform="translate(0,51.2)"><rect width="134.5" height="25.6"/><text x="8" y="10.7">Audio<tspan x="8" dy="12">Capture</tspan></text></g>
<g id="col-3" transform="translate(0,76.8)"><rect width="134.5" height="25.6"/><text x="8" y="10.7">Automated<tspan x="8" dy="12">Collection</tspan></text></g>
<g id="col-4" transform="translate(0,102.4)"><rect width="134.5" height="25.6"/><text x="8" y="9.5">Browser Session<tspan x="8" dy="12">Hijacking</tspan></text></g>
<g id="col-5" class="p" transform="translate(0,128)"><rect width="134.5" height="25.6"/><text x="8" y="10.7">Clipboard<tspan x="8" dy="12">Data</tspan></text></g>
<g id="col-6" transform="translate(0,153.6)"><rect width="134.5" height="25.6"/><text x="8" y="9.5">Data from Cloud<tspan x="8" dy="12">Storage Object</tspan></text></g>
<g id="col-7" transform="translate(0,179.2)"><rect width="134.5" height="25.6"/><text x="8" y="7">Data from<tspan x="8" dy="8.1">Configuration</tspan><tspan x="8" dy="8.1">Repository</tspan></text></g>
<g id="col-8" transform="translate(0,204.8)"><rect width="134.5" height="25.6"/><text x="8" y="7">Data<tspan x="8" dy="8.1">from Information</tspan><tspan x="8" dy="8.1">Repositories</tspan></text></g>
<g id="col-9" transform="translate(0,230.4)"><rect width="134.5" height="25.6"/><text x="8" y="10.7">Data from<tspan x="8" dy="12">Local System</tspan></text></g>
<g id="col-10" transform="translate(0,256)"><rect width="134.5" height="25.6"/><text x="8" y="7">Data<tspan x="8" dy="8.1">from Network</tspan><tspan x="8" dy="8.1">Shared Drive</tspan></text></g>
<g id="col-11" transform="translate(0,281.6)"><rect width="134.5" height="25.6"/><text x="8" y="9.5">Data from<tspan x="8" dy="12">Removable Media</tspan></text></g>
<g id="col-12" transform="translate(0,307.2)"><rect width="134.5" height="25.6"/><text x="8" y="16">Data Staged</text></g>
<g id="col-13" class="p" transform="translate(0,332.8)"><rect width="134.5" height="25.6"/><text x="8" y="10.7">Email<tspan x="8" dy="12">Collection</tspan></text></g>
<g id="col-14" class="p" transform="translate(0,358.4)"><rect width="134.5" height="25.6"/><text x="8" y="10.7">Input<tspan x="8" dy="12">Capture</tspan></text></g>
<g id="col-15" class="p" transform="translate(0,384)"><rect width="134.5" height="25.6"/><text x="8" y="10.7">Screen<tspan x="8" dy="12">Capture</tspan></text></g>
<g id="col-16" transform="translate(0,409.6)"><rect width="134.5" height="25.6"/><text x="8" y="10.7">Video<tspan x="8" dy="12">Capture</tspan></text></g>
<rect class="f" width="134.5" height="435.2"/>
</g>
<g id="col-command" transform="translate(1619,127.6)">
<text class="h" x="67.2" y="-14.6">Command<tspan x="67.2" dy="12">and Control</tspan></text>
<g id="cmd-0" class="p"><rect width="134.5" height="25.6"/><text x="8" y="9.5">Application<tspan x="8" dy="12">Layer Protocol</tspan></text></g>
<g id="cmd-1" transform="translate(0,25.6)"><rect width="134.5" height="25.6"/><text x="8" y="7">Communication<tspan x="8" dy="8.1">Through</tspan><tspan x="8" dy="8.1">Removable Media</tspan></text></g>
<g id="cmd-2" transform="translate(0,51.2)"><rect width="134.5" height="25.6"/><text x="8" y="10.7">Data<tspan x="8" dy="12">Encoding</tspan></text></g>
<g id="cmd-3" transform="translate(0,76.8)"><rect width="134.5" height="25.6"/><text x="8" y="10.7">Data<tspan x="8" dy="12">Obfuscation</tspan></text></g>
<g id="cmd-4" transform="translate(0,102.4)"><rect width="134.5" height="25.6"/><text x="8" y="10.7">Dynamic<tspan x="8" dy="12">Resolution</tspan></text></g>
<g id="cmd-5" transform="translate(0,128)"><rect width="134.5" height="25.6"/><text x="8" y="10.7">Encrypted<tspan x="8" dy="12">Channel</tspan></text></g>
<g id="cmd-6" transform="translate(0,153.6)"><rect width="134.5" height="25.6"/><text x="8" y="10.7">Fallback<tspan x="8" dy="12">Channels</tspan></text></g>
<g id="cmd-7" class="p" transform="translate(0,179.2)"><rect width="134.5" height="25.6"/><text x="8" y="10.7">Ingress Tool<tspan x="8" dy="12">Transfer</tspan></text></g>
<g id="cmd-8" transform="translate(0,204.8)"><rect width="134.5" height="25.6"/><text x="8" y="10.7">Multi-Stage<tspan x="8" dy="12">Channels</tspan></text></g>
<g id="cmd-9" class="p" transform="translate(0,230.4)"><rect width="134.5" height="25.6"/><text x="8" y="9.5">Non-Application<tspan x="8" dy="12">Layer Protocol</tspan></text></g>
<g id="cmd-10" transform="translate(0,256)"><rect width="134.5" height="25.6"/><text x="8" y="10.7">Non-Standard<tspan x="8" dy="12">Port</tspan></text></g>
<g id="cmd-11" transform="translate(0,281.6)"><rect width="134.5" height="25.6"/><text x="8" y="10.7">Protocol<tspan x="8" dy="12">Tunneling</tspan></text></g>
<g id="cmd-12" transform="translate(0,307.2)"><rect width="134.5" height="25.6"/><text x="8" y="17">Proxy</text></g>
<g id="cmd-13" transform="translate(0,332.8)"><rect width="134.5" height="25.6"/><text x="8" y="9.5">Remote Access<tspan x="8" dy="12">Software</tspan></text></g>
<g id="cmd-14" transform="translate(0,358.4)"><rect width="134.5" height="25.6"/><text x="8" y="10.7">Traffic<tspan x="8" dy="12">Signaling</tspan></text></g>
<g id="cmd-15" class="p" transform="translate(0,384)"><rect width="134.5" height="25.6"/><text x="8" y="16.5">Web Service</text></g>
<rect class="f" width="134.5" height="409.6"/>
</g>
<g id="col-exfiltration" transform="translate(1766,127.6)">
<text class="h" x="67.2" y="-9.6">Exfiltration</text>
<g id="exf-0"><rect width="134.5" height="25.6"/><text x="8" y="10.7">Automated<tspan x="8" dy="12">Exfiltration</tspan></text></g>
<g id="exf-1" transform="translate(0,25.6)"><rect width="134.5" height="25.6"/><text x="8" y="9.5">Data Transfer<tspan x="8" dy="12">Size Limits</tspan></text></g>
<g id="exf-2" transform="translate(0,51.2)"><rect width="134.5" height="25.6"/><text x="8" y="7">Exfiltration<tspan x="8" dy="8.1">Over Alternative</tspan><tspan x="8" dy="8.1">Protocol</tspan></text></g>
<g id="exf-3" transform="translate(0,76.8)"><rect width="134.5" height="25.6"/><text x="8" y="9.5">Exfiltration<tspan x="8" dy="12">Over C2 Channel</tspan></text></g>
<g id="exf-4" transform="translate(0,102.4)"><rect width="134.5" height="25.6"/><text x="8" y="7">Exfiltration<tspan x="8" dy="8.1">Over Other</tspan><tspan x="8" dy="8.1">Network Medium</tspan></text></g>
<g id="exf-5" transform="translate(0,128)"><rect width="134.5" height="25.6"/><text x="8" y="7">Exfiltration<tspan x="8" dy="8.1">Over</tspan><tspan x="8" dy="8.1">Physical Medium</tspan></text></g>
<g id="exf-6" transform="translate(0,153.6)"><rect width="134.5" height="25.6"/><text x="8" y="9.5">Exfiltration<tspan x="8" dy="12">Over Web Service</tspan></text></g>
<g id="exf-7" transform="translate(0,179.2)"><rect width="134.5" height="25.6"/><text x="8" y="10.7">Scheduled<tspan x="8" dy="12">Transfer</tspan></text></g>
<g id="exf-8" transform="translate(0,204.8)"><rect width="134.5" height="25.6"/><text x="8" y="9.5">Transfer Data<tspan x="8" dy="12">to Cloud Account</tspan></text></g>
<rect class="f" width="134.5" height="230.4"/>
</g>
<g id="col-impact" transform="translate(1913,127.6)">
<text class="h" x="67.2" y="-6.6">Impact</text>
<g id="imp-0"><rect width="134.5" height="25.6"/><text x="8" y="9.5">Account<tspan x="8" dy="12">Access Removal</tspan></text></g>
<g id="imp-1" transform="translate(0,25.6)"><rect width="134.5" height="25.6"/><text x="8" y="10.7">Data<tspan x="8" dy="12">Destruction</tspan></text></g>
<g id="imp-2" class="p" transform="translate(0,51.2)"><rect width="134.5" height="25.6"/><text x="8" y="9.5">Data Encrypted<tspan x="8" dy="12">for Impact</tspan></text></g>
<g id="imp-3" transform="translate(0,76.8)"><rect width="134.5" height="25.6"/><text x="8" y="10.7">Data<tspan x="8" dy="12">Manipulation</tspan></text></g>
<g id="imp-4" transform="translate(0,102.4)"><rect width="134.5" height="25.6"/><text x="8" y="16">Defacement</text></g>
<g id="imp-5" transform="translate(0,128)"><rect width="134.5" height="25.6"/><text x="8" y="16">Disk Wipe</text></g>
<g id="imp-6" transform="translate(0,153.6)"><rect width="134.5" height="25.6"/><text x="8" y="9.5">Endpoint Denial<tspan x="8" dy="12">of Service</tspan></text></g>
<g id="imp-7" transform="translate(0,179.2)"><rect width="134.5" height="25.6"/><text x="8" y="10.7">Firmware<tspan x="8" dy="12">Corruption</tspan></text></g>
<g id="imp-8" class="p" transform="translate(0,204.8)"><rect width="134.5" height="25.6"/><text x="8" y="9.5">Inhibit System<tspan x="8" dy="12">Recovery</tspan></text></g>
<g id="imp-9" transform="translate(0,230.4)"><rect width="134.5" height="25.6"/><text x="8" y="9.5">Network Denial<tspan x="8" dy="12">of Service</tspan></text></g>
<g id="imp-10" transform="translate(0,256)"><rect width="134.5" height="25.6"/><text x="8" y="10.7">Resource<tspan x="8" dy="12">Hijacking</tspan></text></g>
<g id="imp-11" transform="translate(0,281.6)"><rect width="134.5" height="25.6"/><text x="8" y="10.7">Service<tspan x="8" dy="12">Stop</tspan></text></g>
<g id="imp-12" transform="translate(0,307.2)"><rect width="134.5" height="25.6"/><text x="8" y="9.5">System<tspan x="8" dy="12">Shutdown/Reboot</tspan></text></g>
<rect class="f" width="134.5" height="332.8"/>
</g>
</g>
<g id="connectors"></g>
<g id="logo">
<path class="mark" d="M1686.7 1098v.1M1694 1085.5v26M1704 1081v13M1704 1098v.1M1704 1103v12.5M1712.7 1085.5v26M1721.7 1098v.1"/>
<text class="logo" x="1731" y="1110.7" font-size="34" letter-spacing="-.9">Recorded Future</text>
<text class="logo" x="1988" y="1093" font-size="11" font-weight="400">®</text>
</g>
</svg>
